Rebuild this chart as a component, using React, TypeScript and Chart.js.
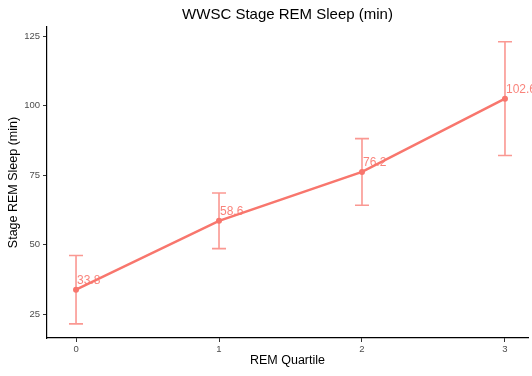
import React, { useEffect, useRef } from "react";
import { Chart, registerables } from "chart.js";

Chart.register(...registerables);

const quartiles = [0, 1, 2, 3];
const meanRem = [33.8, 58.6, 76.2, 102.6];
const lowerRem = [21.5, 48.6, 64.2, 82.1];
const upperRem = [46.1, 68.6, 88.2, 123.1];
const valueLabels = ["33.8", "58.6", "76.2", "102.6"];
const xTicks = [0, 1, 2, 3];
const yTicks = [25, 50, 75, 100, 125];

const FONT = "'Liberation Sans', Arial, Helvetica, sans-serif";
const RED = "#F8766D";
const RED_LIGHT = "rgba(248,118,109,0.75)";
const RED_TEXT = "rgba(248,118,109,0.9)";

const errorBarPlugin = {
  id: "errorBars",
  beforeDatasetsDraw(chart: any) {
    const { ctx, scales } = chart;
    const xs = scales.x;
    const ys = scales.y;
    ctx.save();
    ctx.strokeStyle = RED_LIGHT;
    ctx.lineWidth = 1.6;
    quartiles.forEach((q, i) => {
      const x = xs.getPixelForValue(q);
      const yLo = ys.getPixelForValue(lowerRem[i]);
      const yHi = ys.getPixelForValue(upperRem[i]);
      const cap = 7;
      ctx.beginPath();
      ctx.moveTo(x, yLo);
      ctx.lineTo(x, yHi);
      ctx.moveTo(x - cap, yLo);
      ctx.lineTo(x + cap, yLo);
      ctx.moveTo(x - cap, yHi);
      ctx.lineTo(x + cap, yHi);
      ctx.stroke();
    });
    ctx.restore();
  },
  afterDatasetsDraw(chart: any) {
    const { ctx, scales } = chart;
    const xs = scales.x;
    const ys = scales.y;
    ctx.save();
    ctx.fillStyle = RED_TEXT;
    ctx.font = `12px ${FONT}`;
    ctx.textAlign = "left";
    ctx.textBaseline = "alphabetic";
    quartiles.forEach((q, i) => {
      const x = xs.getPixelForValue(q);
      const y = ys.getPixelForValue(meanRem[i]);
      ctx.fillText(valueLabels[i], x + 1, y - 6);
    });
    ctx.restore();
  },
};

export default function App() {
  const ref = useRef<HTMLCanvasElement | null>(null);

  useEffect(() => {
    if (!ref.current) return;
    const chart = new Chart(ref.current, {
      type: "line",
      data: {
        datasets: [
          {
            data: quartiles.map((q, i) => ({ x: q, y: meanRem[i] })),
            borderColor: RED,
            backgroundColor: RED,
            borderWidth: 2.5,
            pointRadius: 3,
            pointBorderWidth: 0,
            pointBackgroundColor: RED,
            tension: 0,
          },
        ],
      },
      options: {
        responsive: false,
        animation: false,
        layout: { padding: 0 },
        plugins: {
          legend: { display: false },
          tooltip: { enabled: false },
          title: {
            display: true,
            text: "WWSC Stage REM Sleep (min)",
            fullSize: false,
            color: "#000",
            font: { family: FONT, size: 15, weight: "normal", lineHeight: 1.2 },
            padding: { top: 6, bottom: 3 },
          },
        },
        scales: {
          x: {
            type: "linear",
            min: -0.203,
            max: 3.161,
            afterBuildTicks: (s: any) => {
              s.ticks = xTicks.map((v) => ({ value: v }));
            },
            afterFit: (s: any) => {
              s.height = 38;
            },
            grid: {
              drawOnChartArea: false,
              drawTicks: true,
              tickLength: 4,
              tickColor: "#333",
            },
            border: { display: true, color: "#000", width: 1.2 },
            ticks: {
              color: "#4d4d4d",
              font: { family: FONT, size: 9.5 },
              padding: 2,
              maxRotation: 0,
              callback: (v: any) => String(v),
            },
            title: {
              display: true,
              text: "REM Quartile",
              color: "#000",
              font: { family: FONT, size: 12.5, lineHeight: 1.2 },
              padding: { top: 0, bottom: 8 },
            },
          },
          y: {
            type: "linear",
            min: 16.4,
            max: 128.4,
            afterBuildTicks: (s: any) => {
              s.ticks = yTicks.map((v) => ({ value: v }));
            },
            afterFit: (s: any) => {
              s.width = 47;
            },
            grid: {
              drawOnChartArea: false,
              drawTicks: true,
              tickLength: 4,
              tickColor: "#333",
            },
            border: { display: true, color: "#000", width: 1.2 },
            ticks: {
              color: "#4d4d4d",
              font: { family: FONT, size: 9.5 },
              padding: 3,
              callback: (v: any) => String(v),
            },
            title: {
              display: true,
              text: "Stage REM Sleep (min)",
              color: "#000",
              font: { family: FONT, size: 12.5, lineHeight: 1.2 },
              padding: { top: 6, bottom: 0 },
            },
          },
        },
      },
      plugins: [errorBarPlugin],
    });
    return () => chart.destroy();
  }, []);

  return (
    <div style={{ position: "fixed", left: 0, top: 0, width: 532, height: 376, overflow: "hidden", background: "#fff" }}>
      <canvas ref={ref} width={532} height={376} style={{ display: "block" }} />
    </div>
  );
}
